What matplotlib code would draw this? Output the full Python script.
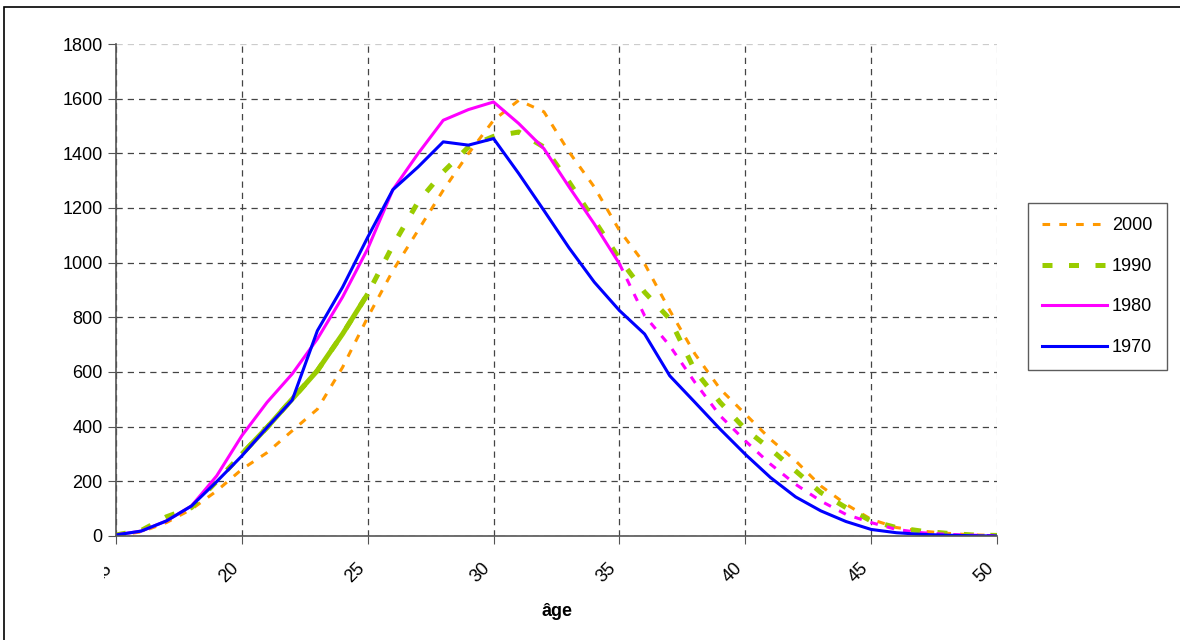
import matplotlib
matplotlib.use('Agg')
import matplotlib.pyplot as plt
from matplotlib.transforms import Bbox
from matplotlib.patches import Rectangle

plt.rcParams['font.family'] = ['Liberation Sans', 'DejaVu Sans']

ages = list(range(15, 51))

y1970 = [4, 18, 55, 110, 199, 293, 397, 497, 751, 910, 1093, 1267, 1350, 1442, 1430, 1454,
         1326, 1191, 1054, 929, 825, 739, 586, 489, 391, 299, 214, 143, 92, 53, 24, 12, 6, 3, 1, 0]
y1980 = [4, 18, 55, 110, 220, 367, 489, 593, 721, 874, 1051, 1267, 1399, 1521, 1560, 1588,
         1509, 1417, 1277, 1142, 996, 806, 696, 562, 440, 348, 263, 189, 128, 79, 49, 24, 12, 6, 3, 1]
y1990 = [4, 20, 70, 104, 200, 300, 397, 501, 605, 739, 886, 1063, 1222, 1332, 1423, 1462,
         1478, 1423, 1295, 1155, 1014, 892, 794, 605, 489, 391, 318, 238, 159, 104, 55, 31, 18, 10, 4, 2]
y2000 = [2, 15, 49, 98, 165, 244, 305, 385, 464, 617, 800, 971, 1118, 1265, 1399, 1521,
         1594, 1552, 1405, 1277, 1118, 996, 825, 666, 538, 446, 354, 275, 183, 116, 61, 31, 18, 10, 4, 2]

fig = plt.figure(figsize=(11.8, 6.4), dpi=100)
fig.patches.append(Rectangle((4 / 1180, -0.1), 1.2, 1 - 7 / 640 + 0.1, transform=fig.transFigure,
                             fill=False, edgecolor='black', linewidth=1.2))
ax = fig.add_axes([116 / 1180, 1 - 536 / 640, (997 - 116) / 1180, (536 - 44) / 640])

orange = '#ff9900'
green = '#99cc00'
magenta = '#ff00ff'
blue = '#0000ff'

# 2000: dotted all along
ax.plot(ages, y2000, color=orange, lw=2.2, linestyle=(0, (2.5, 3)), label='2000')
# 1990: dashed, solid between 20 and 25
ax.plot(ages, y1990, color=green, lw=3.6, linestyle=(0, (2, 3.3)), label='1990')
ax.plot(ages[5:11], y1990[5:11], color=green, lw=3.6, solid_capstyle='butt')
# 1980: solid up to 35, dotted after
ax.plot(ages[:21], y1980[:21], color=magenta, lw=2.2, label='1980')
ax.plot(ages[20:], y1980[20:], color=magenta, lw=2.2, linestyle=(0, (2.5, 3)))
# 1970
ax.plot(ages, y1970, color=blue, lw=2.2, label='1970')

ax.set_xlim(15, 50)
ax.set_ylim(0, 1800)
ax.set_xticks(range(15, 51, 5))
ax.set_yticks(range(0, 1801, 200))
ax.grid(True, color='#444444', linestyle=(0, (5, 4)), linewidth=0.9)
ax.set_axisbelow(True)
ax.get_ygridlines()[-1].set_color('#cccccc')
ax.get_xgridlines()[-1].set_color('#cccccc')

for s in ['top', 'right']:
    ax.spines[s].set_visible(False)
for s in ['left', 'bottom']:
    ax.spines[s].set_color('#555555')
    ax.spines[s].set_linewidth(1.2)

ax.tick_params(axis='both', length=6, color='#555555', labelsize=13, direction='out')
ax.tick_params(axis='x', pad=11)
for lab in ax.get_xticklabels():
    lab.set_rotation(45)
    lab.set_ha('right')
    lab.set_va('top')
    lab.set_clip_on(True)
    lab.set_clip_box(Bbox.from_extents(104, 0, 1180, 640))

ax.set_xlabel('âge', fontsize=13, fontweight='bold', labelpad=12)

handles, labels = ax.get_legend_handles_labels()
leg = fig.legend(handles, labels, loc='upper left', bbox_to_anchor=(1028 / 1180, 1 - 203 / 640),
                 fontsize=13, frameon=True, fancybox=False, edgecolor='#333333',
                 handlelength=3.6, handletextpad=0.25, labelspacing=1.3,
                 borderpad=0.8, borderaxespad=0)
leg.get_frame().set_linewidth(1.0)

fig.savefig('out.png', dpi=100)
